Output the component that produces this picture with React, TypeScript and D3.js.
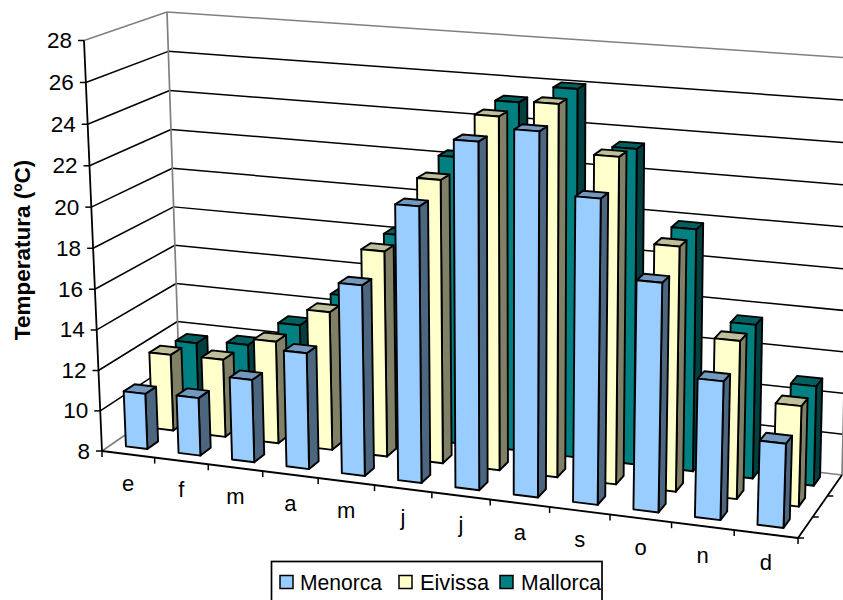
import React from "react";
import * as d3 from "d3";

// Monthly mean temperature for the three Balearic islands
const months = ["e", "f", "m", "a", "m", "j", "j", "a", "s", "o", "n", "d"];
const menorca = [10.75, 10.85, 12.05, 13.65, 17.2, 21.2, 24.45, 25.15, 22.3, 18.7, 14.45, 11.9];
const eivissa = [11.85, 11.9, 13.1, 14.85, 18.1, 21.8, 25.05, 25.85, 23.6, 19.65, 15.5, 12.75];
const mallorca = [11.6, 11.8, 13.1, 14.85, 18.15, 22.25, 25.15, 26.0, 23.35, 19.75, 15.45, 12.8];
const valueTicks = [8, 10, 12, 14, 16, 18, 20, 22, 24, 26, 28];
const depthTicks = [0, 1, 2, 3];

const seriesNames = ["Menorca", "Eivissa", "Mallorca"];
const seriesValues = [menorca, eivissa, mallorca];
const faceColours = [
  { front: "#99CCFF", side: "#4D6680", top: "#7399BF" },
  { front: "#FFFFCC", side: "#808066", top: "#BFBF99" },
  { front: "#008080", side: "#004040", top: "#006060" },
];
const legendSwatchX = [280, 399, 500];
const legendTextX = [300, 420, 521];
const legendTextLen = [82, 69, 80];

const WIDTH = 843;
const HEIGHT = 600;
const FONT = "'Liberation Sans', Arial, sans-serif";

// Corners of the plot box, [left/right][front/back] at the lowest and highest value
type Pt = [number, number];
const floor: Pt[][] = [
  [[102, 451], [180, 397]],
  [[798, 538], [842, 475]],
];
const ceiling: Pt[][] = [
  [[84, 40.5], [167, 12]],
  [[812, 93], [852, 58]],
];

const monthScale = d3.scaleLinear().domain([0, months.length]).range([0, 1]);
const depthScale = d3.scaleLinear().domain([0, 3]).range([0, 1]);
const valueScale = d3.scaleLinear().domain([8, 28]).range([0, 1]);

// Perspective: nearer months take up more width, and height scale drifts slightly
const RATIO = 1.11;
const RISE = 1.025;
const foreshorten = (u: number, r: number) => u / (u + r * (1 - u));

const lerp = (a: number, b: number, t: number) => a + (b - a) * t;
const lerpPt = (a: Pt, b: Pt, t: number): Pt => [lerp(a[0], b[0], t), lerp(a[1], b[1], t)];

function project(month: number, depth: number, value: number): Pt {
  const u = foreshorten(monthScale(month), RATIO);
  const w = depthScale(depth);
  const t = foreshorten(valueScale(value), RISE);
  const low = lerpPt(lerpPt(floor[0][0], floor[1][0], u), lerpPt(floor[0][1], floor[1][1], u), w);
  const high = lerpPt(lerpPt(ceiling[0][0], ceiling[1][0], u), lerpPt(ceiling[0][1], ceiling[1][1], u), w);
  return lerpPt(low, high, t);
}

const line = d3.line<Pt>();
const closed = (pts: Pt[]) => line(pts) + "Z";

// Each column occupies this slice of its month cell and of the depth axis
const BAR_START = 0.28;
const BAR_END = 0.69;
const rowStart = [0.36, 1.38, 2.38];
const ROW_DEPTH = 0.42;

function Bar({ month, row, value }: { month: number; row: number; value: number }) {
  const x0 = month + BAR_START;
  const x1 = month + BAR_END;
  const z0 = rowStart[row];
  const z1 = z0 + ROW_DEPTH;
  const base = 8;
  const c = faceColours[row];
  const style = { stroke: "#000", strokeWidth: 1.9, strokeLinejoin: "round" as const };
  return (
    <g>
      <path
        d={closed([project(x1, z0, base), project(x1, z1, base), project(x1, z1, value), project(x1, z0, value)])}
        fill={c.side}
        {...style}
      />
      <path
        d={closed([project(x0, z0, value), project(x1, z0, value), project(x1, z1, value), project(x0, z1, value)])}
        fill={c.top}
        {...style}
      />
      <path
        d={closed([project(x0, z0, base), project(x1, z0, base), project(x1, z0, value), project(x0, z0, value)])}
        fill={c.front}
        {...style}
      />
    </g>
  );
}

function Seg({ a, b, stroke = "#000", width = 1.5 }: { a: Pt; b: Pt; stroke?: string; width?: number }) {
  return <line x1={a[0]} y1={a[1]} x2={b[0]} y2={b[1]} stroke={stroke} strokeWidth={width} />;
}

export default function App() {
  const n = months.length;
  const rows = [2, 1, 0];
  return (
    <svg
      width={WIDTH}
      height={HEIGHT}
      viewBox={`0 0 ${WIDTH} ${HEIGHT}`}
      style={{ position: "absolute", left: 0, top: 0, background: "#fff", fontFamily: FONT }}
    >
      {/* gridlines along the left and back walls */}
      {valueTicks.slice(1, -1).map((v) => (
        <g key={v}>
          <Seg a={project(0, 0, v)} b={project(0, 3, v)} />
          <Seg a={project(0, 3, v)} b={project(n, 3, v)} />
        </g>
      ))}

      {/* wall and floor edges */}
      <Seg a={project(0, 0, 28)} b={project(0, 3, 28)} stroke="#808080" />
      <Seg a={project(0, 3, 28)} b={project(n, 3, 28)} stroke="#808080" />
      <Seg a={project(0, 3, 8)} b={project(0, 3, 28)} stroke="#808080" width={1.7} />
      <Seg a={project(0, 0, 8)} b={project(0, 3, 8)} stroke="#808080" width={1.7} />
      <Seg a={project(0, 3, 8)} b={project(n, 3, 8)} stroke="#808080" width={1.7} />
      <Seg a={project(n, 3, 8)} b={project(n, 3, 28)} stroke="#808080" width={1.7} />

      {/* columns, back row first */}
      {rows.map((row) =>
        seriesValues[row].map((v, i) => <Bar key={`${row}-${i}`} month={i} row={row} value={v} />)
      )}

      {/* value axis */}
      <Seg a={project(0, 0, 8)} b={project(0, 0, 28)} width={1.8} />
      {valueTicks.map((v) => {
        const p = project(0, 0, v);
        return (
          <g key={v}>
            <Seg a={[p[0] - 6, p[1]]} b={p} />
            <text x={p[0] - 12} y={p[1] + 7.5} textAnchor="end" fontSize={22.5} fill="#000">
              {v}
            </text>
          </g>
        );
      })}

      {/* month axis */}
      <Seg a={project(0, 0, 8)} b={project(n, 0, 8)} width={1.8} />
      {d3.range(n + 1).map((i) => {
        const p = project(i, 0, 8);
        return <Seg key={i} a={p} b={[p[0], p[1] + 6]} />;
      })}
      {months.map((m, i) => {
        const p = project(i + 0.5, 0, 8);
        return (
          <text key={i} x={p[0]} y={p[1] + 36.5} textAnchor="middle" fontSize={22} fill="#000">
            {m}
          </text>
        );
      })}

      {/* depth axis */}
      <Seg a={project(n, 0, 8)} b={project(n, 3, 8)} width={1.8} />
      {depthTicks.slice(0, 3).map((d) => {
        const p = project(n, d, 8);
        return <Seg key={d} a={p} b={[p[0] + 6, p[1]]} />;
      })}

      <text
        transform="translate(29.5,250) rotate(-90)"
        textAnchor="middle"
        fontSize={22.5}
        fontWeight="bold"
        fill="#000"
      >
        Temperatura (ºC)
      </text>

      {/* legend */}
      <rect x={271.5} y={561.5} width={330.5} height={50} fill="#fff" stroke="#000" strokeWidth={1.7} />
      {seriesNames.map((name, i) => (
        <g key={name}>
          <rect
            x={legendSwatchX[i]}
            y={575.5}
            width={13}
            height={13}
            fill={faceColours[i].front}
            stroke="#000"
            strokeWidth={1.5}
          />
          <text
            x={legendTextX[i]}
            y={590}
            fontSize={22}
            fill="#000"
            textLength={legendTextLen[i]}
            lengthAdjust="spacingAndGlyphs"
          >
            {name}
          </text>
        </g>
      ))}
    </svg>
  );
}
